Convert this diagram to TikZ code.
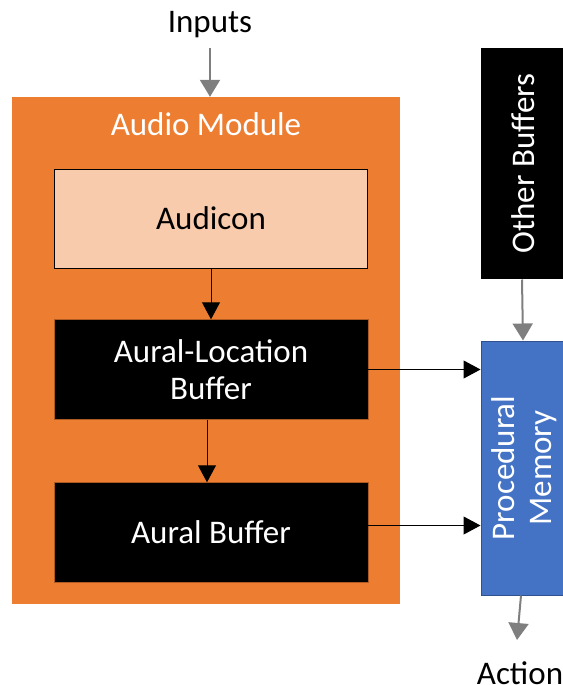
\documentclass[tikz,border=0pt]{standalone}
\usepackage{fontspec}
\setmainfont{Carlito}
\usetikzlibrary{arrows.meta, positioning}

\definecolor{modorange}{HTML}{ED7D31}
\definecolor{darkorange}{HTML}{AE5A21}
\definecolor{lightorange}{HTML}{F8CBAD}
\definecolor{pmblue}{HTML}{4472C4}
\definecolor{pmedge}{HTML}{2F528F}
\definecolor{arrowgray}{HTML}{7F7F7F}

\begin{document}
\begin{tikzpicture}[x = 1pt, y = -1pt, % one unit per pixel, y downwards
                font = \fontsize{33}{37}\selectfont,
                every node/.style = {inner sep = 0pt, align = center}
            ]

            \tikzstyle{buffer}=[draw = darkorange, fill = black, text = white,
            minimum width = 314pt, minimum height = 100pt]
            \tikzstyle{sidebox}=[rotate = 90, text = white, line width = 1pt]
            \tikzstyle{blackarrow}=[-{Triangle[width = 18pt, length = 17pt]},
            black, line width = 1pt]
            \tikzstyle{grayarrow}=[-{Triangle[width = 20pt, length = 17pt]},
            arrowgray, line width = 2pt]

            \useasboundingbox (0,0) rectangle (562,685);

            % audio module
            \node (module) [fill = modorange, minimum width = 388pt,
                minimum height = 507pt] at (206,350.5) {};
            \node (title) [text = white] at (206,124) {Audio Module};
            \node (audicon) [draw = black, line width = 1pt, fill = lightorange,
                minimum width = 313pt, minimum height = 99pt] at (211,218.5)
                {Audicon};
            \node (alb) [buffer] at (211,369.5) {Aural-Location\\Buffer};
            \node (ab) [buffer] at (211,532.5) {Aural Buffer};

            % right column
            \node (other) [sidebox, fill = black, minimum width = 231pt,
                minimum height = 84pt] at (523,163.5) {Other Buffers};
            \node (pm) [sidebox, draw = pmedge, fill = pmblue,
                minimum width = 254pt, minimum height = 86pt] at (524,468)
                {Procedural\\Memory};

            % texts outside
            \node (inputs) at (210,25) {Inputs};
            \node (action) at (520,673) {Action};

            \draw[grayarrow] (inputs.south) ++(0,10) coordinate (in0)
            (in0) -- (module.north -| in0);
            \draw[blackarrow] (audicon.south) -- (alb.north);
            \draw[blackarrow] ([xshift = -4pt]alb.south) --
            ([xshift = -4pt]ab.north);
            \draw[blackarrow] (alb.east) -- (alb.east -| pm.north);
            \draw[blackarrow] ([yshift = 7pt]ab.east) --
            ([yshift = 7pt]ab.east -| pm.north);
            \draw[grayarrow] ([xshift = -1pt]other.west) --
            ([xshift = -1pt]pm.east);
            \draw[grayarrow] ([xshift = -3pt]pm.west) --
            ([xshift = -3pt]action.north |- 0,640) coordinate (act0);
        \end{tikzpicture}
\end{document}
